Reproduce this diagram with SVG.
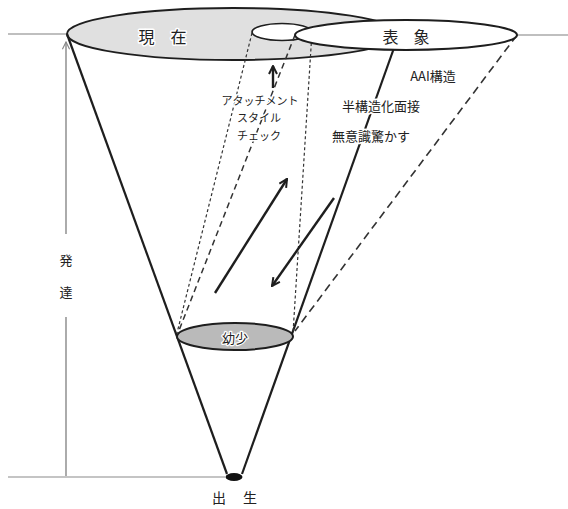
<svg xmlns="http://www.w3.org/2000/svg" width="568" height="509" viewBox="0 0 568 509">
<defs>
<style>
.t{font-family:"Noto Sans CJK JP","Noto Sans",sans-serif;fill:#222;dominant-baseline:central;text-anchor:middle;paint-order:stroke;stroke:#fff;stroke-width:3;stroke-linejoin:round}
.cone{stroke:#1e1e1e;stroke-width:2.2;fill:none}
.guide{stroke:#aaa;stroke-width:1.6;fill:none}
.fine{stroke:#333;stroke-width:1.2;stroke-dasharray:3 2.5;fill:none}
.dash{stroke:#333;stroke-width:1.5;stroke-dasharray:6 4;fill:none}
.long{stroke:#333;stroke-width:1.6;stroke-dasharray:8 5;fill:none}
.arr{stroke:#1e1e1e;stroke-width:2.4;fill:none}
</style>
<marker id="head" viewBox="0 0 10 10" refX="9" refY="5" markerWidth="10" markerHeight="10" markerUnits="userSpaceOnUse" orient="auto">
<path d="M1,1 L9,5 L1,9" fill="none" stroke="#1e1e1e" stroke-width="2"/>
</marker>
<marker id="ghead" viewBox="0 0 10 10" refX="9" refY="5" markerWidth="9" markerHeight="9" markerUnits="userSpaceOnUse" orient="auto">
<path d="M1,1 L9,5 L1,9" fill="none" stroke="#888" stroke-width="1.3"/>
</marker>
</defs>
<rect width="568" height="509" fill="#fff"/>

<g id="guides">
<line class="guide" x1="8" y1="34" x2="67" y2="34"/>
<line class="guide" x1="517" y1="35" x2="568" y2="35"/>
<line x1="8" y1="477" x2="225" y2="477" stroke="#c4c4c4" stroke-width="2"/>
<line x1="66" y1="234" x2="66" y2="42" stroke="#888" stroke-width="1.4" marker-end="url(#ghead)"/>
<line x1="66" y1="317" x2="66" y2="476" stroke="#888" stroke-width="1.4"/>
</g>

<g id="node-present">
<ellipse cx="233" cy="34" rx="166" ry="26" fill="#e0e0e0" stroke="#1e1e1e" stroke-width="2"/>
</g>
<g id="node-inner">
<ellipse cx="282" cy="32" rx="30" ry="8.5" fill="#fff" stroke="#1e1e1e" stroke-width="1.6"/>
</g>

<g id="connectors">
<line class="cone" x1="67" y1="34" x2="227" y2="474"/>
<line class="cone" x1="399" y1="34" x2="242" y2="474"/>
<line class="fine" x1="252" y1="33" x2="177" y2="333"/>
<line class="dash" x1="295" y1="35" x2="178" y2="333"/>
<line class="fine" x1="312" y1="32" x2="293" y2="333"/>
<line class="long" x1="517" y1="35" x2="295" y2="331"/>
<line class="arr" x1="273" y1="88" x2="273" y2="66" marker-end="url(#head)"/>
<line class="arr" x1="215" y1="293" x2="287" y2="179" marker-end="url(#head)"/>
<line class="arr" x1="334" y1="198" x2="272" y2="286" marker-end="url(#head)"/>
</g>

<g id="node-representation">
<ellipse cx="406" cy="35" rx="111" ry="15" fill="#fff" stroke="#1e1e1e" stroke-width="2"/>
<text class="t" x="390.5" y="36" font-size="16">表</text>
<text class="t" x="421.5" y="36" font-size="16">象</text>
</g>

<g id="node-present-label">
<text class="t" x="146.5" y="36" font-size="16">現</text>
<text class="t" x="178.5" y="36" font-size="16">在</text>
</g>

<g id="node-childhood">
<ellipse cx="235" cy="336.5" rx="58" ry="13.5" fill="#bababa" stroke="#1e1e1e" stroke-width="2"/>
<text class="t" x="235" y="337" font-size="13" style="stroke-width:2.5">幼少</text>
</g>

<g id="node-birth">
<ellipse cx="234" cy="477" rx="8.5" ry="4" fill="#111"/>
<text class="t" x="219" y="497" font-size="14">出</text>
<text class="t" x="250" y="497" font-size="14">生</text>
</g>

<g id="labels">
<text class="t" x="260" y="100" font-size="11">アタッチメント</text>
<text class="t" x="259" y="117" font-size="11">スタイル</text>
<text class="t" x="259" y="135" font-size="11">チェック</text>
<text class="t" x="433" y="75" font-size="13">AAI構造</text>
<text class="t" x="381" y="105" font-size="13">半構造化面接</text>
<text class="t" x="371" y="135" font-size="13">無意識驚かす</text>
<text class="t" x="66" y="259" font-size="13">発</text>
<text class="t" x="66" y="291" font-size="13">達</text>
</g>
</svg>
